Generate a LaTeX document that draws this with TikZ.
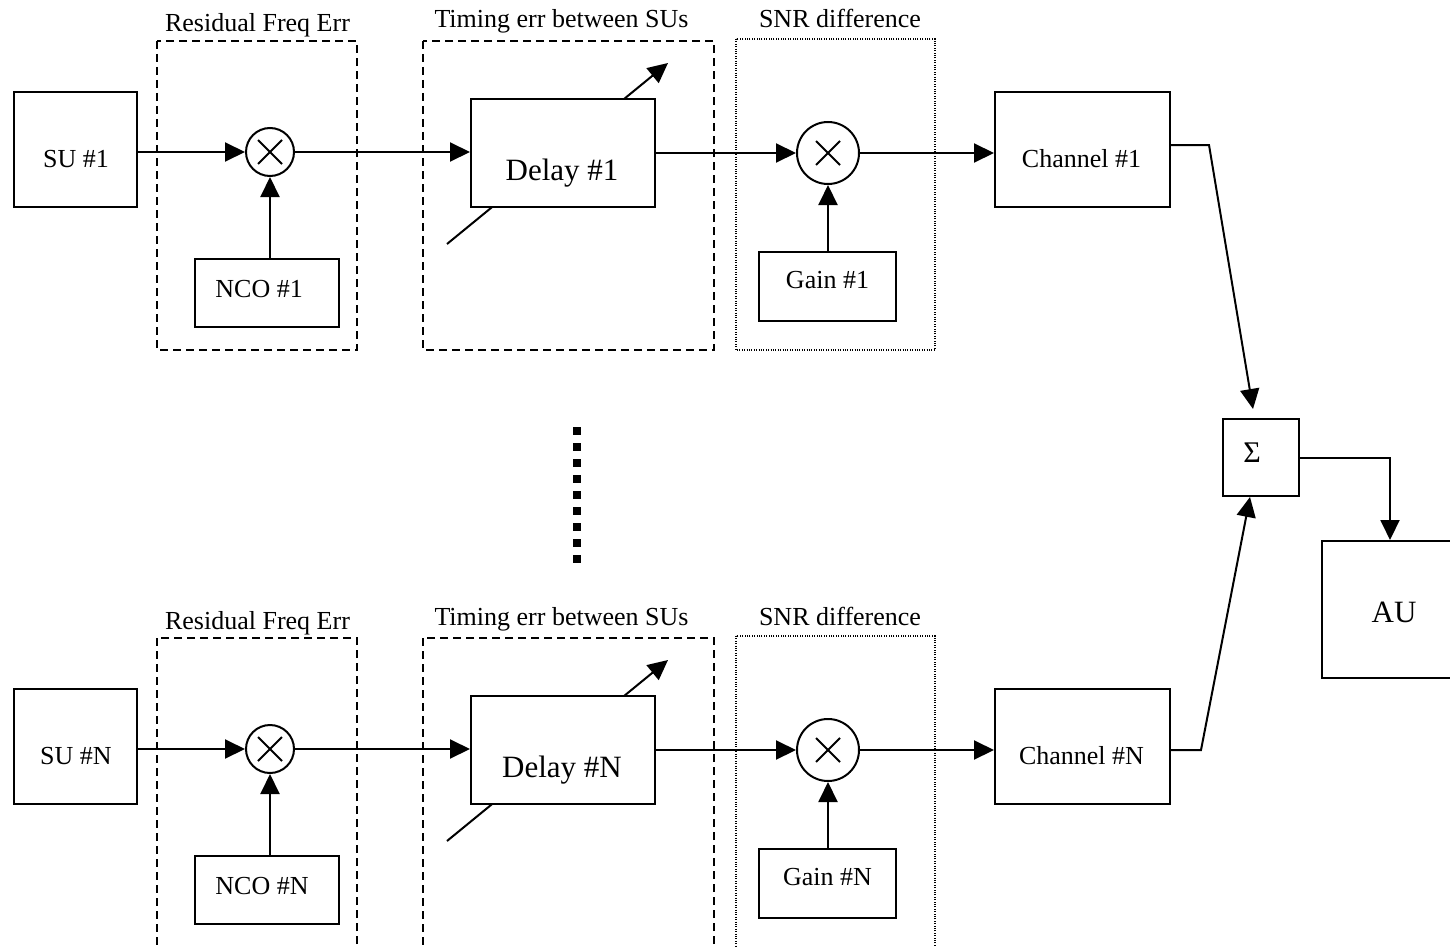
\documentclass[tikz,border=0pt]{standalone}
\usepackage{fontspec}
\setmainfont{Liberation Serif}
\usetikzlibrary{arrows.meta,calc}
\begin{document}
\begin{tikzpicture}[x=0.5pt,y=-0.5pt,
  blk/.style={draw,line width=1pt,fill=white,inner sep=0pt},
  grp/.style={draw,line width=0.9pt,dash pattern=on 4pt off 2.5pt},
  dgrp/.style={draw,line width=0.7pt,dash pattern=on 0.5pt off 0.7pt},
  ln/.style={line width=1pt},
  arr/.style={line width=1pt,-{Triangle[length=10pt,width=9.5pt]}},
  mult/.style={circle,draw,line width=1pt,inner sep=0pt,fill=white},
  txt/.style={anchor=base,inner sep=0pt,font=\fontsize{13}{15}\selectfont},
  bigtxt/.style={anchor=base,inner sep=0pt,font=\fontsize{15.5}{18}\selectfont}
]
\useasboundingbox (0,0) rectangle (1450,947);
\clip (0,0) rectangle (1450,947);

\foreach \k/\dy/\bb in {1/0/350, N/597/380}{
\begin{scope}[shift={(0,\dy)}]
  % group frames
  \draw[grp] (157,41) rectangle (357,\bb);
  \draw[grp] (423,41) rectangle (714,\bb);
  \draw[dgrp] (736,39) rectangle (935,\bb);
  \node[txt] (lres\k) at (257.5,32) {Residual Freq Err};
  \node[txt] (ltim\k) at (561.5,28) {Timing err between SUs};
  \node[txt] (lsnr\k) at (840,28) {SNR difference};

  % SU
  \node[blk,minimum width=61.5pt,minimum height=57.5pt] (su\k) at (75.5,149.5) {};
  \node[txt] (tsu\k) at (76,167) {SU \#\k};

  % first multiplier and NCO
  \node[mult,minimum size=24pt] (ma\k) at (270,152) {};
  \draw[ln] (ma\k.center) +(-12,-12) -- +(12,12);
  \draw[ln] (ma\k.center) +(-12,12) -- +(12,-12);
  \node[blk,minimum width=72pt,minimum height=34pt] (nco\k) at (267,293) {};
  \node[txt,anchor=base west] (tnco\k) at (215,297) {NCO \#\k};

  % delay with variable arrow
  \coordinate (dl\k) at (447,244);
  \coordinate (dh\k) at (668,63);
  \draw[arr] (dl\k) -- (dh\k);
  \node[blk,minimum width=92pt,minimum height=54pt] (del\k) at (563,153) {};
  \node[bigtxt] (tdel\k) at (562,180) {Delay \#\k};

  % second multiplier and gain
  \node[mult,minimum size=31pt] (mb\k) at (828,153) {};
  \draw[ln] (mb\k.center) +(-12,-12) -- +(12,12);
  \draw[ln] (mb\k.center) +(-12,12) -- +(12,-12);
  \node[blk,minimum width=68.5pt,minimum height=34.5pt] (gain\k) at (827.5,286.5) {};
  \node[txt] (tgain\k) at (827.5,288) {Gain \#\k};

  % channel
  \node[blk,minimum width=87.5pt,minimum height=57.5pt] (ch\k) at (1082.5,149.5) {};
  \node[txt] (tch\k) at (1081.5,167) {Channel \#\k};

  % connectors
  \draw[arr] (su\k.east |- ma\k.west) -- (ma\k.west);
  \draw[arr] (ma\k.south |- nco\k.north) -- (ma\k.south);
  \draw[arr] (ma\k.east) -- (del\k.west |- ma\k.east);
  \draw[arr] (del\k.east |- mb\k.west) -- (mb\k.west);
  \draw[arr] (mb\k.south |- gain\k.north) -- (mb\k.south);
  \draw[arr] (mb\k.east) -- (ch\k.west |- mb\k.east);
\end{scope}
}

% vertical ellipsis
\draw[line width=4pt,dash pattern=on 4pt off 4pt] (577,427) -- (577,563);

% summation and AU
\node[blk,minimum width=38pt,minimum height=38.5pt] (sig) at (1261,457.5) {};
\node[txt,font=\fontsize{15}{18}\selectfont] (tsig) at (1252,462) {Σ};
\node[blk,minimum width=68pt,minimum height=68.5pt] (au) at (1390,609.5) {};
\node[bigtxt] (tau) at (1394,622) {AU};

\draw[arr] (ch1.east) ++(0,-4.5) -- ++(38,0) -- ($(sig.north)+(-8,-9)$);
\draw[arr] (chN.east) ++(0,3.5) -- ++(30,0) -- ($(sig.south)+(-11,0)$);
\draw[arr] (sig.east) -| (au.north);
\end{tikzpicture}
\end{document}
